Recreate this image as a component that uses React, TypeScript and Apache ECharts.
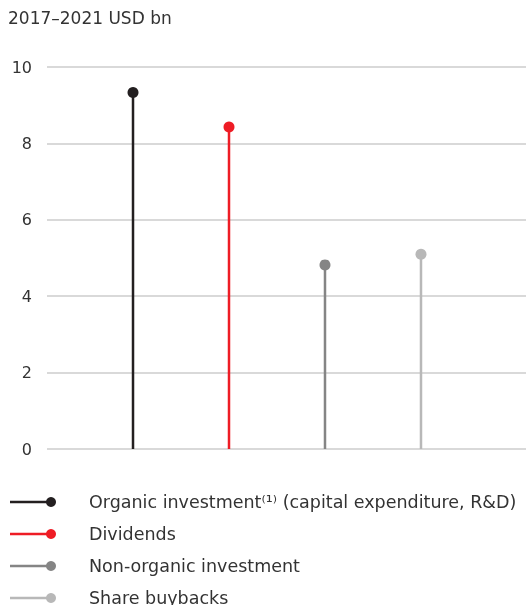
import React, { useEffect, useRef } from "react";
import * as echarts from "echarts";

const categories = [
  "Organic investment⁽¹⁾ (capital expenditure, R&D)",
  "Dividends",
  "Non-organic investment",
  "Share buybacks",
];
const values = [9.33, 8.43, 4.82, 5.1];
const positions = [1, 2, 3, 4];
const colors = ["#231f20", "#ee1c25", "#858585", "#b8b8b8"];
const yTicks = { min: 0, max: 10, interval: 2 };
const unitTitle = "2017–2021 USD bn";

const FONT = "'DejaVu Sans', sans-serif";

export default function App() {
  const ref = useRef<HTMLDivElement>(null);
  useEffect(() => {
    const chart = echarts.init(ref.current!, null, { renderer: "svg" });
    const series = categories.map((name, i) => ({
      name,
      type: "line",
      data: [
        { value: [positions[i], 0], symbol: "none" },
        { value: [positions[i], values[i]], symbol: "circle" },
      ],
      symbolSize: 11,
      lineStyle: { color: colors[i], width: 2.5 },
      itemStyle: { color: colors[i] },
      z: 3,
    }));
    const legendRows = categories.map((name, i) => {
      const y = 502 + i * 32;
      return {
        type: "group",
        children: [
          { type: "line", shape: { x1: 10, y1: y, x2: 50, y2: y }, style: { stroke: colors[i], lineWidth: 2.5 } },
          { type: "circle", shape: { cx: 51, cy: y, r: 5 }, style: { fill: colors[i] } },
          {
            type: "text",
            x: 89,
            y: y,
            style: {
              text: name,
              fill: "#333",
              font: `17.5px ${FONT}`,
              textVerticalAlign: "middle",
              verticalAlign: "middle",
            },
          },
        ],
      };
    });
    chart.setOption({
      animation: false,
      grid: { left: 47, right: 0, top: 67, bottom: 156, containLabel: false },
      xAxis: {
        type: "value",
        min: 0.104,
        max: 5.094,
        show: false,
        splitLine: { show: false },
      },
      yAxis: {
        type: "value",
        min: yTicks.min,
        max: yTicks.max,
        interval: yTicks.interval,
        axisLine: { show: false },
        axisTick: { show: false },
        axisLabel: { color: "#333", fontSize: 16, fontFamily: FONT, margin: 15 },
        splitLine: { lineStyle: { color: "#cccccc", width: 1.5 } },
      },
      series,
      graphic: [
        {
          type: "text",
          left: 8,
          top: 9,
          style: { text: unitTitle, fill: "#333", font: `17px ${FONT}` },
        },
        ...legendRows,
      ],
    });
    return () => chart.dispose();
  }, []);
  return (
    <div
      ref={ref}
      style={{ position: "fixed", left: 0, top: 0, width: 526, height: 605 }}
    />
  );
}
